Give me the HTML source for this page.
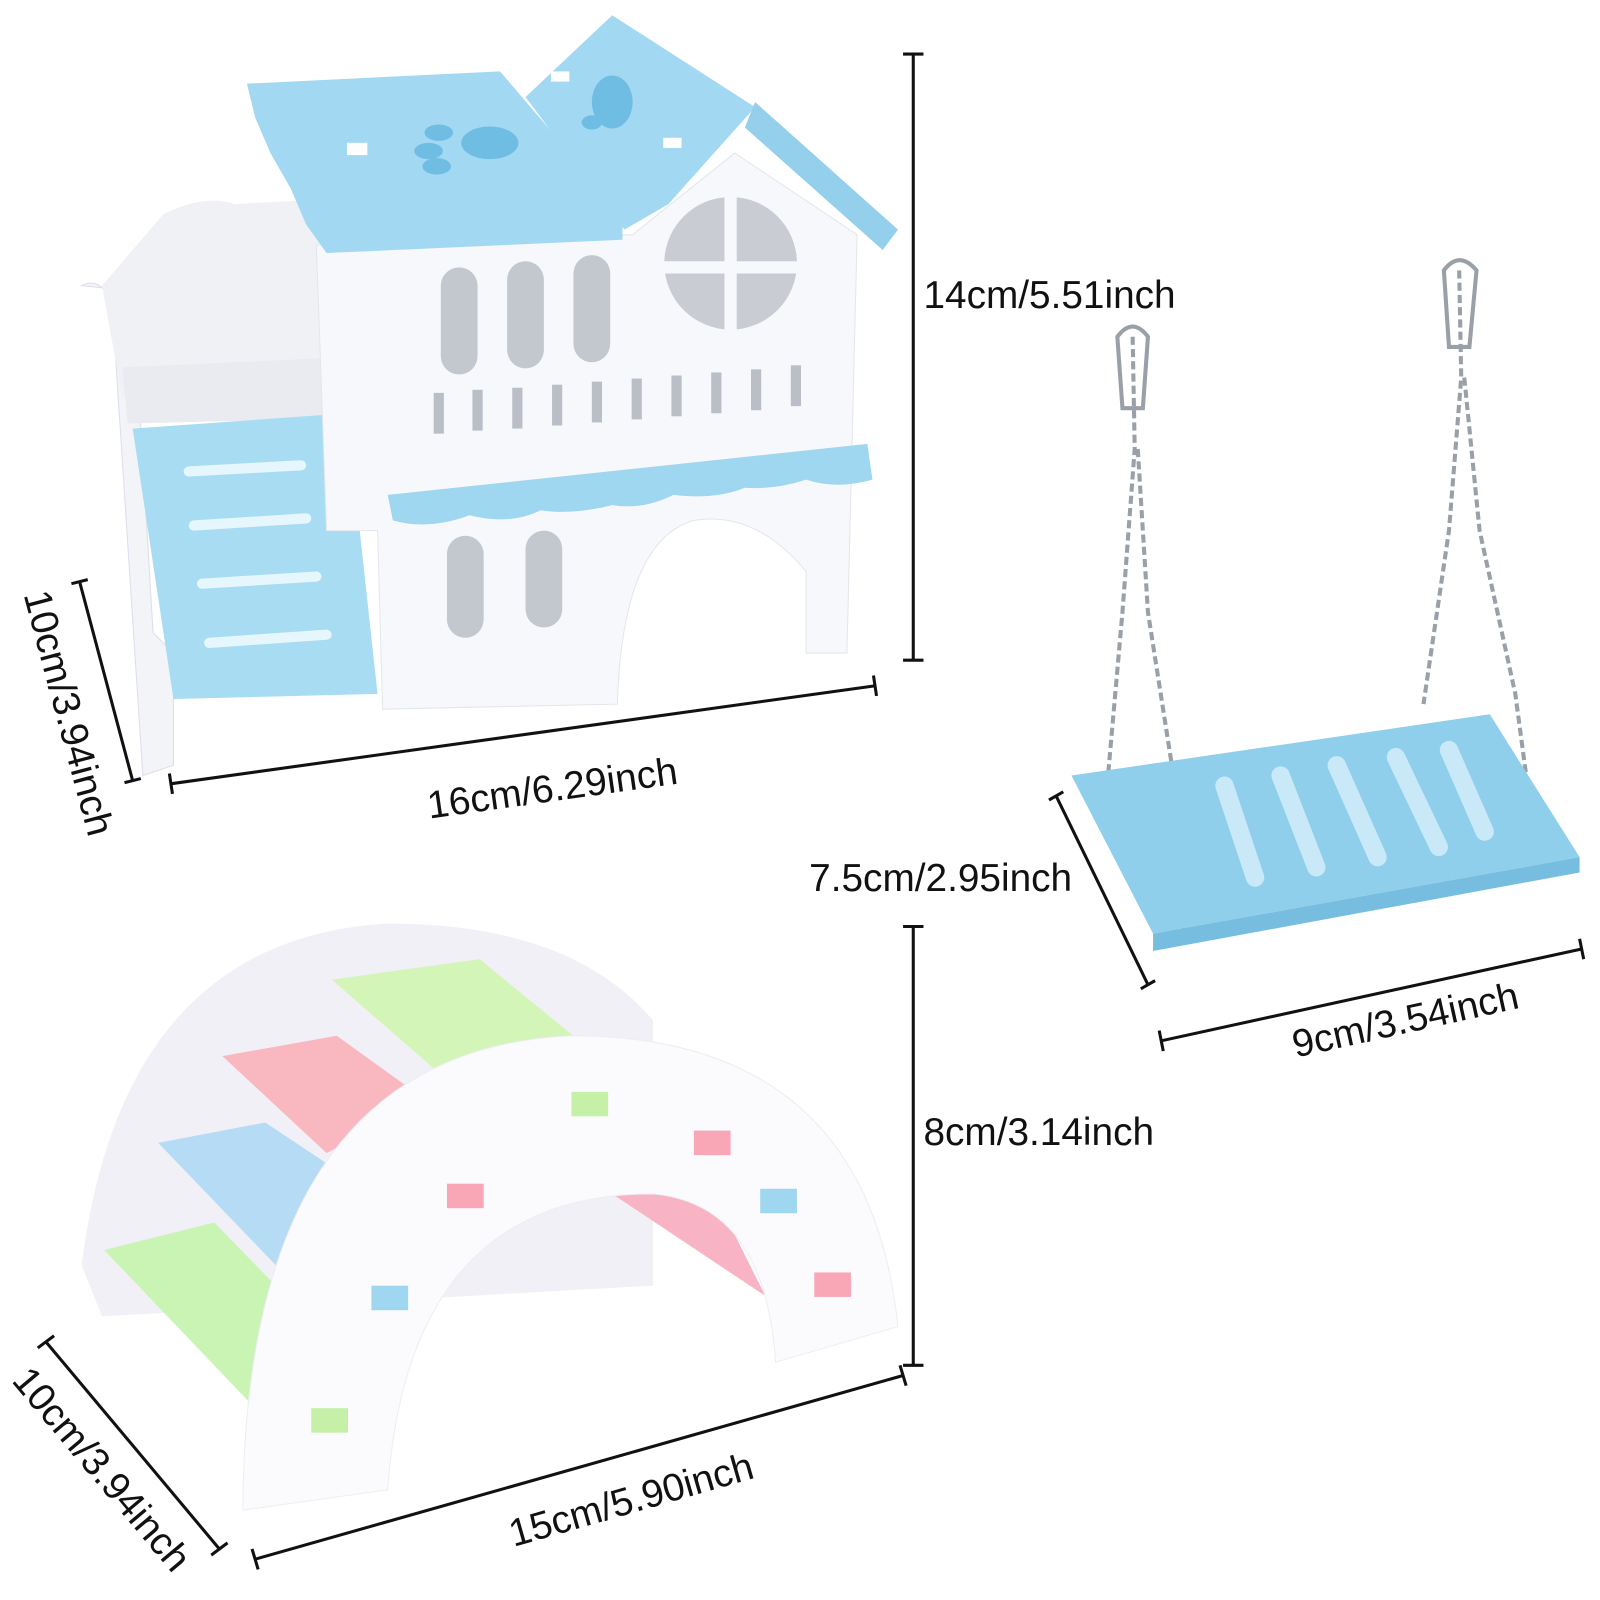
<!DOCTYPE html>
<html><head><meta charset="utf-8"><style>
html,body{margin:0;padding:0;background:#fff;width:1600px;height:1600px;overflow:hidden}
svg{display:block}
text{font-family:"Liberation Sans",sans-serif;font-size:38px;fill:#111}
</style></head><body>
<svg width="1600" height="1600" viewBox="0 0 1568 1568" xmlns="http://www.w3.org/2000/svg">
<!-- HOUSE -->
<g>
 <!-- left stair block -->
 <path d="M80 280 Q100 270 110 300 L140 760 L170 750 L170 640 L150 620 L130 285 Z" fill="#f3f4f7" stroke="#dde" />
 <path d="M100 280 L160 210 Q200 190 230 200 L320 195 L330 380 L120 390 Z" fill="#f0f1f5"/>
 <path d="M120 360 L340 350 L340 410 L125 415 Z" fill="#e9ebf0"/>
 <path d="M130 420 L340 405 L370 680 L170 685 Z" fill="#a8dcf3"/>
 <g stroke="#e6f6fd" stroke-width="10" stroke-linecap="round">
  <line x1="185" y1="462" x2="295" y2="456"/><line x1="190" y1="515" x2="300" y2="508"/>
  <line x1="198" y1="572" x2="310" y2="565"/><line x1="205" y1="630" x2="320" y2="622"/>
 </g>
 <!-- main walls -->
 <path d="M310 240 L620 230 L720 150 L840 230 L830 640 L790 640 L790 560 Q740 500 680 510 Q610 530 605 690 L375 695 L370 520 L320 520 Z" fill="#f7f8fb" stroke="#e3e6ec"/>
 <circle cx="716" cy="258" r="65" fill="#c9ccd3"/>
 <g stroke="#f7f8fb" stroke-width="12"><line x1="716" y1="190" x2="716" y2="325"/><line x1="650" y1="262" x2="782" y2="262"/></g>
 <g fill="#c3c7ce">
  <rect x="432" y="262" width="36" height="105" rx="18"/><rect x="497" y="256" width="36" height="105" rx="18"/><rect x="562" y="250" width="36" height="105" rx="18"/>
  <rect x="438" y="525" width="36" height="100" rx="18"/><rect x="515" y="520" width="36" height="95" rx="18"/>
 </g>
 <g fill="#b9bec7">
  <rect x="425" y="385" width="10" height="40"/><rect x="463" y="382" width="10" height="40"/><rect x="502" y="380" width="10" height="40"/><rect x="541" y="377" width="10" height="40"/><rect x="580" y="374" width="10" height="40"/><rect x="619" y="371" width="10" height="40"/><rect x="658" y="368" width="10" height="40"/><rect x="697" y="365" width="10" height="40"/><rect x="736" y="362" width="10" height="40"/><rect x="775" y="358" width="10" height="40"/>
 </g>
 <!-- awning -->
 <path d="M380 485 L850 435 L855 470 Q820 480 790 470 Q760 480 730 478 Q700 490 660 485 Q630 500 600 495 Q560 505 530 500 Q500 515 460 505 Q420 520 385 510 Z" fill="#9fd6f0"/>
 <!-- roofs -->
 <path d="M242 82 L490 70 L610 210 L610 235 L320 248 L300 220 L285 185 L265 150 L250 115 Z" fill="#a3d8f2"/>
 <path d="M515 95 L600 15 L740 105 L655 200 L612 225 Z" fill="#a3d8f2"/>
 <path d="M740 100 L880 225 L865 245 L730 125 Z" fill="#94cfec"/>
 <g fill="#6fbde3"><ellipse cx="480" cy="140" rx="28" ry="16"/><ellipse cx="430" cy="130" rx="14" ry="8"/><ellipse cx="420" cy="148" rx="14" ry="8"/><ellipse cx="428" cy="163" rx="14" ry="8"/><ellipse cx="600" cy="100" rx="20" ry="26"/><ellipse cx="580" cy="120" rx="10" ry="7"/></g>
 <g fill="#fff"><rect x="340" y="140" width="20" height="12"/><rect x="540" y="70" width="18" height="10"/><rect x="650" y="135" width="18" height="10"/></g>
</g>

<!-- SWING -->
<g>
 <g stroke="#9aa0a8" stroke-width="4" fill="none" stroke-dasharray="8 4">
  <path d="M1110 330 L1112 440 L1100 600 L1085 770"/><path d="M1115 440 L1125 600 L1150 760 L1160 910"/>
  <path d="M1430 265 L1432 370 L1420 520 L1395 690"/><path d="M1435 370 L1450 520 L1485 680 L1505 830"/>
 </g>
 <g stroke="#9aa0a8" stroke-width="4" fill="none">
  <path d="M1095 330 Q1110 310 1125 330 L1120 400 L1100 400 Z"/><path d="M1415 265 Q1430 245 1447 265 L1440 340 L1420 340 Z"/>
 </g>
 <path d="M1050 760 L1460 700 L1548 840 L1130 915 Z" fill="#8fcfec"/>
 <path d="M1130 915 L1548 840 L1548 855 L1130 932 Z" fill="#76bde0"/>
 <g stroke="#c9e9f8" stroke-width="18" stroke-linecap="round">
  <line x1="1200" y1="770" x2="1230" y2="860"/><line x1="1255" y1="760" x2="1290" y2="850"/><line x1="1310" y1="750" x2="1350" y2="840"/><line x1="1368" y1="742" x2="1410" y2="830"/><line x1="1420" y1="735" x2="1455" y2="815"/>
 </g>
</g>

<!-- BRIDGE -->
<g>
 <path d="M80 1240 Q120 920 380 905 Q560 905 640 1000 L640 1260 L100 1290 Z" fill="#f2f0f7"/>
 <path d="M325 960 L470 940 L580 1030 L440 1060 Z" fill="#d4f5b8"/>
 <path d="M218 1035 L330 1015 L420 1080 L320 1130 Z" fill="#f9b7bf"/>
 <path d="M155 1120 L260 1100 L350 1160 L280 1250 Z" fill="#b5dcf4"/>
 <path d="M102 1225 L210 1198 L280 1270 L250 1380 Z" fill="#c9f4b4"/>
 <path d="M600 1170 L700 1170 L750 1270 Z" fill="#f8b3c4"/>
 <path d="M238 1480 Q240 1030 560 1015 Q850 1015 880 1300 L760 1335 Q750 1180 640 1170 Q400 1170 380 1460 Z" fill="#fbfbfd" stroke="#eceef3"/>
 <rect x="560" y="1070" width="36" height="24" fill="#c6f0a8"/>
 <rect x="680" y="1108" width="36" height="24" fill="#f9a7b6"/>
 <rect x="745" y="1165" width="36" height="24" fill="#9fd6f0"/>
 <rect x="798" y="1247" width="36" height="24" fill="#f9a7b6"/>
 <rect x="438" y="1160" width="36" height="24" fill="#f9a7b6"/>
 <rect x="364" y="1260" width="36" height="24" fill="#9fd6f0"/>
 <rect x="305" y="1380" width="36" height="24" fill="#c6f0a8"/>
</g>

<!-- DIMENSION LINES -->
<g stroke="#111" stroke-width="3" fill="none">
 <line x1="895" y1="53" x2="895" y2="647"/><line x1="885" y1="53" x2="905" y2="53"/><line x1="885" y1="647" x2="905" y2="647"/>
 <line x1="168" y1="768" x2="858" y2="672"/><line x1="166" y1="758" x2="169" y2="778"/><line x1="856" y1="662" x2="859" y2="682"/>
 <line x1="78" y1="570" x2="130" y2="765"/><line x1="70" y1="572" x2="86" y2="568"/><line x1="122" y1="767" x2="138" y2="763"/>
 <line x1="1035" y1="780" x2="1125" y2="965"/><line x1="1028" y1="784" x2="1042" y2="776"/><line x1="1118" y1="969" x2="1132" y2="961"/>
 <line x1="1138" y1="1020" x2="1550" y2="930"/><line x1="1136" y1="1010" x2="1140" y2="1030"/><line x1="1548" y1="920" x2="1552" y2="940"/>
 <line x1="895" y1="908" x2="895" y2="1338"/><line x1="885" y1="908" x2="905" y2="908"/><line x1="885" y1="1338" x2="905" y2="1338"/>
 <line x1="250" y1="1528" x2="885" y2="1348"/><line x1="247" y1="1518" x2="253" y2="1538"/><line x1="882" y1="1338" x2="888" y2="1358"/>
 <line x1="45" y1="1315" x2="215" y2="1518"/><line x1="37" y1="1321" x2="53" y2="1309"/><line x1="207" y1="1524" x2="223" y2="1512"/>
</g>
<text x="905" y="302">14cm/5.51inch</text>
<text transform="translate(543,785) rotate(-8)" text-anchor="middle">16cm/6.29inch</text>
<text transform="translate(55,702) rotate(75)" text-anchor="middle">10cm/3.94inch</text>
<text x="793" y="873">7.5cm/2.95inch</text>
<text transform="translate(1380,1012) rotate(-12.5)" text-anchor="middle">9cm/3.54inch</text>
<text x="905" y="1122">8cm/3.14inch</text>
<text transform="translate(622,1482) rotate(-16)" text-anchor="middle">15cm/5.90inch</text>
<text transform="translate(90,1448) rotate(50)" text-anchor="middle">10cm/3.94inch</text>
</svg>
</body></html>
